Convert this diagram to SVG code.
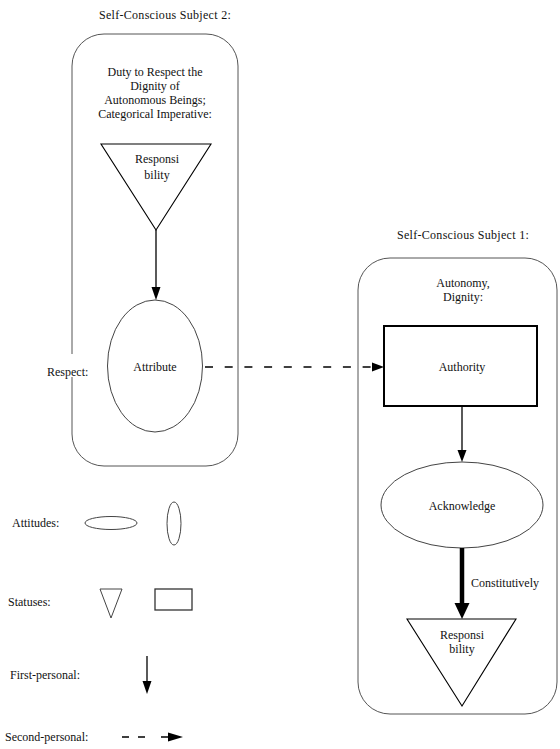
<svg xmlns="http://www.w3.org/2000/svg" width="560" height="749" viewBox="0 0 560 749" font-family="'Liberation Serif', 'Times New Roman', 'DejaVu Serif', serif" font-size="12">
<style>
text{fill:#111}
.c{text-anchor:middle}
.box{fill:none;stroke:#555;stroke-width:1}
.thin{fill:#fff;stroke:#444;stroke-width:1}
.tri{fill:#fff;stroke:#000;stroke-width:1.1}
.rect{fill:#fff;stroke:#000;stroke-width:2}
.ln{stroke:#000;stroke-width:1.3;fill:none}
.dash{stroke:#000;stroke-width:1.5;fill:none;stroke-dasharray:8 11.7}
.head{fill:#000}
</style>
<rect width="560" height="749" fill="#fff"/>

<g id="subject2">
  <rect class="box" x="72" y="34" width="166" height="432" rx="32"/>
  <text class="c" x="165" y="19" letter-spacing="0.3">Self-Conscious Subject 2:</text>
  <text class="c" x="155" y="76">Duty to Respect the</text>
  <text class="c" x="155" y="90">Dignity of</text>
  <text class="c" x="155" y="104">Autonomous Beings;</text>
  <text class="c" x="155" y="118">Categorical Imperative:</text>
</g>
<g id="respect-label">
  <rect x="44" y="354" width="48" height="23" fill="#fff"/>
  <text x="47" y="376">Respect:</text>
</g>

<g id="subject1">
  <rect class="box" x="358" y="258" width="199" height="456" rx="32"/>
  <text class="c" x="463" y="239" letter-spacing="0.3">Self-Conscious Subject 1:</text>
  <text class="c" x="463" y="287">Autonomy,</text>
  <text class="c" x="463" y="301">Dignity:</text>
</g>

<g id="responsibility2">
  <polygon class="tri" points="101,144 211,144 156,230"/>
  <text class="c" x="157" y="163">Responsi</text>
  <text class="c" x="157" y="179">bility</text>
</g>
<g id="attribute">
  <ellipse class="thin" cx="155" cy="366" rx="47.5" ry="66"/>
  <text class="c" x="155" y="371">Attribute</text>
</g>
<g id="authority">
  <rect class="rect" x="384" y="326" width="153" height="80"/>
  <text class="c" x="462" y="371">Authority</text>
</g>
<g id="acknowledge">
  <ellipse class="thin" cx="462" cy="505" rx="81" ry="43"/>
  <text class="c" x="462" y="510">Acknowledge</text>
</g>
<g id="responsibility1">
  <polygon class="tri" points="407,619 516,619 462,706"/>
  <text class="c" x="462" y="639">Responsi</text>
  <text class="c" x="462" y="653">bility</text>
</g>

<g id="connectors">
  <line class="ln" x1="156" y1="230" x2="156" y2="289"/>
  <polygon class="head" points="151.5,287 160.5,287 156,300"/>
  <line class="dash" x1="205" y1="367" x2="372" y2="367"/>
  <polygon class="head" points="372,362.5 384,367 372,371.5"/>
  <line class="ln" x1="462" y1="406" x2="462" y2="451"/>
  <polygon class="head" points="457.5,450 466.5,450 462,462"/>
  <line x1="462" y1="548" x2="462" y2="604" stroke="#000" stroke-width="4.5"/>
  <polygon class="head" points="454.5,603 469.5,603 462,619"/>
  <text x="471" y="587">Constitutively</text>
</g>

<g id="legend">
  <g id="legend-attitudes">
    <text x="12" y="527">Attitudes:</text>
    <ellipse class="thin" cx="111" cy="523" rx="26" ry="6.5"/>
    <ellipse class="thin" cx="174" cy="523.5" rx="7" ry="21.5"/>
  </g>
  <g id="legend-statuses">
    <text x="8" y="606">Statuses:</text>
    <polygon class="thin" points="100,589 122,589 111,618"/>
    <rect x="155" y="589" width="37" height="21" fill="#fff" stroke="#333" stroke-width="1.3"/>
  </g>
  <g id="legend-first">
    <text x="10" y="679">First-personal:</text>
    <line class="ln" x1="147" y1="656" x2="147" y2="683"/>
    <polygon class="head" points="142.5,681 151.5,681 147,694"/>
  </g>
  <g id="legend-second">
    <text x="5" y="741">Second-personal:</text>
    <path d="M122 737h7M138 737h7M161 737h8" stroke="#000" stroke-width="1.5" fill="none"/>
    <polygon class="head" points="168,732.5 183,737 168,741.5"/>
  </g>
</g>
</svg>
